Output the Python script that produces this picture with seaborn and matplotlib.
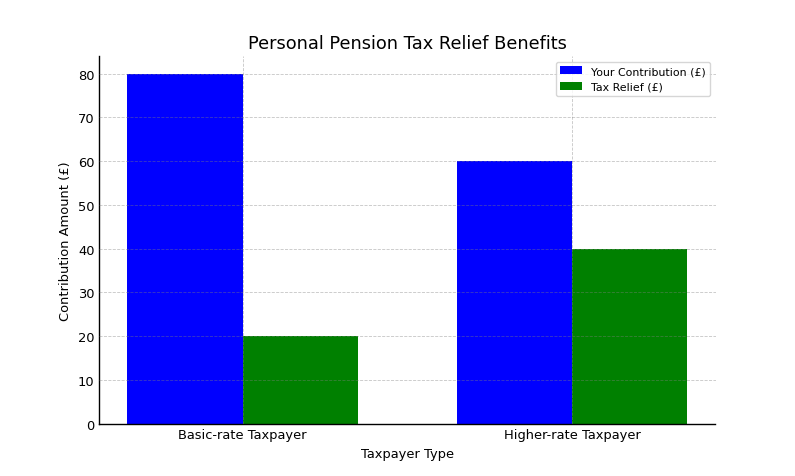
import matplotlib
matplotlib.use("Agg")
import matplotlib.pyplot as plt
import seaborn as sns
import pandas as pd

categories = ["Basic-rate Taxpayer", "Higher-rate Taxpayer"]
your_contribution = [80, 60]
tax_relief = [20, 40]
series_names = ["Your Contribution (£)", "Tax Relief (£)"]

df = pd.DataFrame({
    "Taxpayer Type": categories * 2,
    "Amount": your_contribution + tax_relief,
    "Series": [series_names[0]] * len(categories) + [series_names[1]] * len(categories),
})

sns.set_style("white")
plt.rcParams["font.family"] = ["DejaVu Sans"]
plt.rcParams["text.color"] = "black"
plt.rcParams["axes.labelcolor"] = "black"

fig, ax = plt.subplots(figsize=(7.95, 4.77), dpi=100)
sns.barplot(data=df, x="Taxpayer Type", y="Amount", hue="Series",
            palette=["blue", "green"], width=0.7, saturation=1,
            linewidth=0, ax=ax, errorbar=None)
ax.set_xlim(-0.435, 1.435)
ax.set_title("Personal Pension Tax Relief Benefits", fontsize=12.8, color="black")
ax.set_xlabel("Taxpayer Type", fontsize=9.4, color="black")
ax.set_ylabel("Contribution Amount (£)", fontsize=9.4, color="black")
ax.tick_params(axis="both", length=0, labelsize=9.4, colors="black")
for s in ["top", "right"]:
    ax.spines[s].set_visible(False)
for s in ["left", "bottom"]:
    ax.spines[s].set_color("black")
    ax.spines[s].set_linewidth(1)
ax.grid(True, linestyle="--", linewidth=0.6, alpha=0.45, color="gray")
ax.set_axisbelow(False)
leg = ax.legend(loc="upper right", fontsize=7.9, title=None)
for t in leg.get_texts():
    t.set_color("black")
fig.subplots_adjust(left=0.125, right=0.9, top=0.88, bottom=0.11)
fig.savefig("out.png", dpi=100)
